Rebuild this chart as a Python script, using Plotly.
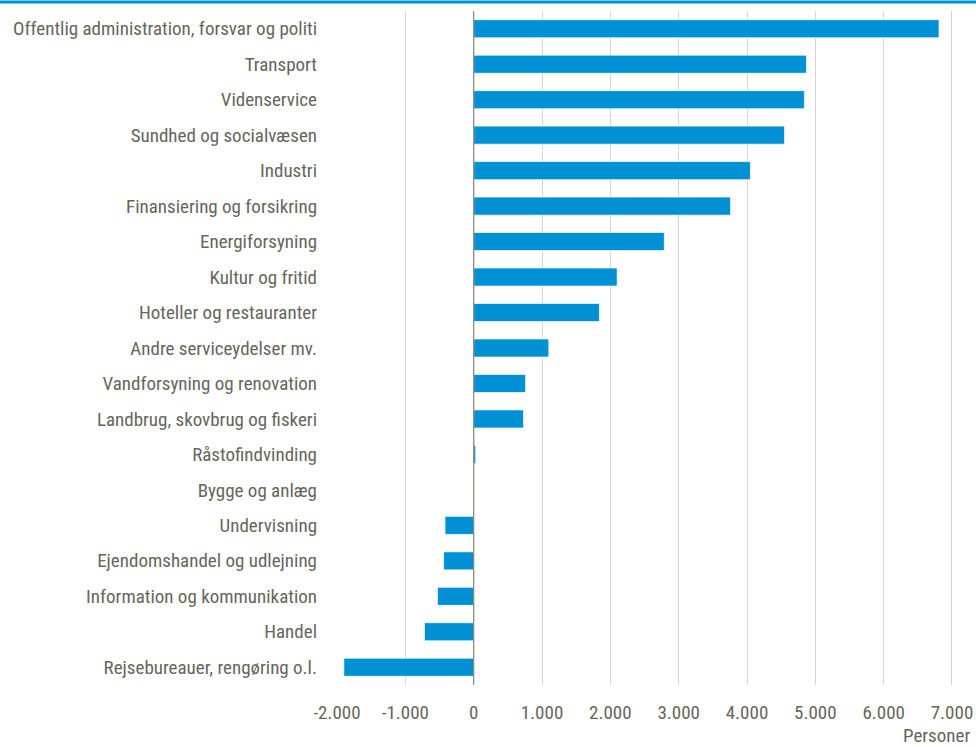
import plotly.graph_objects as go

categories = [
    "Offentlig administration, forsvar og politi",
    "Transport",
    "Videnservice",
    "Sundhed og socialvæsen",
    "Industri",
    "Finansiering og forsikring",
    "Energiforsyning",
    "Kultur og fritid",
    "Hoteller og restauranter",
    "Andre serviceydelser mv.",
    "Vandforsyning og renovation",
    "Landbrug, skovbrug og fiskeri",
    "Råstofindvinding",
    "Bygge og anlæg",
    "Undervisning",
    "Ejendomshandel og udlejning",
    "Information og kommunikation",
    "Handel",
    "Rejsebureauer, rengøring o.l.",
]
values = [6810, 4870, 4840, 4550, 4050, 3760, 2790, 2100, 1840, 1100,
          760, 730, 30, 0, -420, -440, -530, -720, -1900]

tick_vals = [-2000, -1000, 0, 1000, 2000, 3000, 4000, 5000, 6000, 7000]
tick_labels = ["-2.000", "-1.000", "0", "1.000", "2.000", "3.000",
               "4.000", "5.000", "6.000", "7.000"]

BLUE = "#0090d4"
TEXT = "#66665b"
FONT = "Liberation Sans Narrow, Arial Narrow, Roboto Condensed, Liberation Sans, sans-serif"
FS = 19

fig = go.Figure(go.Bar(
    y=categories, x=values, orientation="h",
    marker=dict(color=BLUE, line=dict(color="rgba(255,255,255,0.7)", width=1)),
))

fig.update_layout(
    width=976, height=747,
    margin=dict(l=337, r=24, t=11, b=62),
    paper_bgcolor="white", plot_bgcolor="white",
    bargap=0.49,
    showlegend=False,
    font=dict(family=FONT, size=FS, color=TEXT),
    xaxis=dict(
        range=[-2000, 7000], tickvals=tick_vals, ticktext=tick_labels,
        showgrid=True, gridcolor="#d6d6d6", gridwidth=1.3,
        zeroline=False, showline=False, ticks="", automargin=False,
        ticklabelstandoff=14,
        tickfont=dict(family=FONT, size=FS, color=TEXT),
    ),
    yaxis=dict(
        autorange="reversed", showgrid=False, zeroline=False, showline=False,
        ticks="", ticklabelstandoff=19, automargin=False,
        tickfont=dict(family=FONT, size=FS, color=TEXT),
    ),
    shapes=[
        dict(type="line", xref="x", yref="paper", x0=0, x1=0, y0=0, y1=1,
             line=dict(color="#8a8a80", width=1.3)),
        dict(type="line", xref="x", yref="paper", x0=7000, x1=7000, y0=0, y1=1,
             line=dict(color="#bdbdbd", width=1.3)),
        dict(type="line", xref="paper", yref="paper", x0=-0.56, x1=1.05,
             y0=1 + 9 / 674, y1=1 + 9 / 674,
             line=dict(color=BLUE, width=3)),
    ],
    annotations=[
        dict(text="Personer", xref="paper", yref="paper", x=1 + 20 / 615, y=-50 / 674,
             xanchor="right", yanchor="middle", showarrow=False,
             font=dict(family=FONT, size=FS, color=TEXT)),
    ],
)

fig.write_html(
    "out.html",
    config={"displayModeBar": False},
    post_script="document.body.style.margin='0';document.body.style.overflow='hidden';",
)
